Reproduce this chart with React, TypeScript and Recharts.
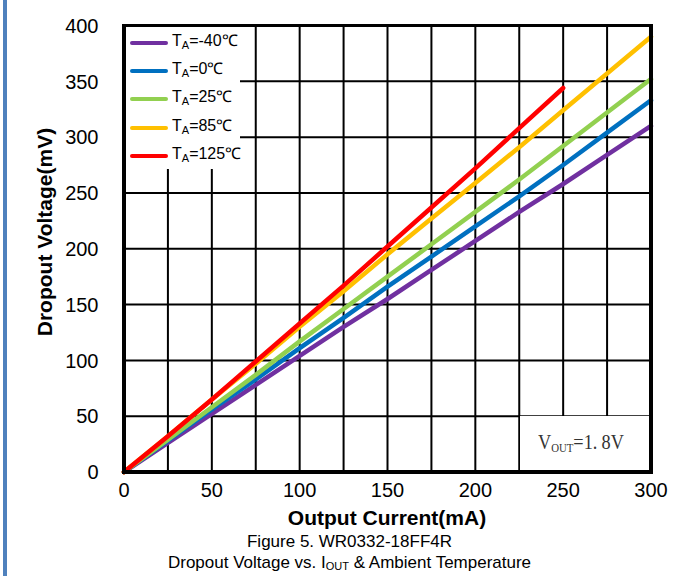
import { LineChart, Line, XAxis, YAxis, CartesianGrid } from 'recharts'

// output current (mA) and dropout voltage (mV) for each ambient temperature
const current = [0, 25, 50, 75, 100, 125, 150, 175, 200, 225, 250, 275, 300]
const vdoMinus40 = [0, 26, 52, 78, 104, 130, 155, 181, 207, 233, 258, 284, 310]
const vdo0 = [0, 28, 56, 83, 111, 138, 166, 193, 220, 247, 275, 304, 333]
const vdo25 = [0, 29, 58, 87, 117, 146, 175, 204, 233, 262, 292, 322, 352]
const vdo85 = [0, 32, 65, 97, 130, 162, 195, 227, 259, 291, 324, 357, 390]
const vdo125 = [0, 32, 65, 99, 133, 167, 202, 237, 272, 308, 344]

const xTicks = [0, 25, 50, 75, 100, 125, 150, 175, 200, 225, 250, 275, 300]
const yTicks = [0, 50, 100, 150, 200, 250, 300, 350, 400]

const series = [
  { key: 'm40', temp: '-40℃', color: '#7030A0', values: vdoMinus40 },
  { key: 't0', temp: '0℃', color: '#0070C0', values: vdo0 },
  { key: 't25', temp: '25℃', color: '#92D050', values: vdo25 },
  { key: 't85', temp: '85℃', color: '#FFC000', values: vdo85 },
  { key: 't125', temp: '125℃', color: '#FF0000', values: vdo125 },
]

const data = current.map((x, i) => {
  const row: Record<string, number | undefined> = { current: x }
  series.forEach(s => { row[s.key] = s.values[i] })
  return row
})

const sans = '"Liberation Sans", Arial, sans-serif'

function XTick({ x, y, payload }: any) {
  if (payload.value % 50 !== 0) return <g />
  return (
    <text x={x} y={497} textAnchor="middle" fontSize={20} fontFamily={sans} fill="#000">
      {payload.value}
    </text>
  )
}

function YTick({ y, payload }: any) {
  return (
    <text x={98.5} y={y + 7.2} textAnchor="end" fontSize={20} fontFamily={sans} fill="#000">
      {payload.value}
    </text>
  )
}

export default function App() {
  return (
    <div style={{ position: 'absolute', left: 0, top: 0, width: 687, height: 576, background: '#fff', fontFamily: sans, color: '#000' }}>
      <div style={{ position: 'absolute', left: 3, top: 0, width: 4, height: 576, background: '#4F81BD' }} />

      <LineChart width={687} height={576} data={data} margin={{ top: 25.5, right: 36, bottom: 74, left: 0 }}>
        <CartesianGrid stroke="#000" strokeWidth={2} />
        <XAxis
          type="number"
          dataKey="current"
          domain={[0, 300]}
          ticks={xTicks}
          interval={0}
          height={30}
          axisLine={false}
          tickLine={false}
          tick={XTick}
        />
        <YAxis
          type="number"
          domain={[0, 400]}
          ticks={yTicks}
          interval={0}
          width={124}
          axisLine={false}
          tickLine={false}
          tick={YTick}
        />
        {series.map(s => (
          <Line
            key={s.key}
            dataKey={s.key}
            stroke={s.color}
            strokeWidth={4.5}
            strokeLinecap="round"
            dot={false}
            activeDot={false}
            isAnimationActive={false}
          />
        ))}
      </LineChart>

      {/* plot frame */}
      <div style={{ position: 'absolute', left: 122, top: 24, width: 531, height: 450, boxSizing: 'border-box', borderStyle: 'solid', borderColor: '#000', borderWidth: '3px 4px 4px 4px', pointerEvents: 'none' }} />

      {/* legend */}
      <div style={{ position: 'absolute', left: 126, top: 27, width: 114, height: 142, background: '#fff' }}>
        {series.map((s, i) => (
          <div key={s.key} style={{ position: 'absolute', left: 0, top: 16 + i * 28.2 - 10, height: 20, display: 'flex', alignItems: 'center' }}>
            <div style={{ width: 38, height: 4, marginLeft: 4, background: s.color, borderRadius: 2 }} />
            <span style={{ marginLeft: 4, fontSize: 16, lineHeight: '20px', whiteSpace: 'nowrap' }}>
              T<sub style={{ fontSize: 11, verticalAlign: -3 }}>A</sub>={s.temp}
            </span>
          </div>
        ))}
      </div>

      {/* output voltage note */}
      <div style={{ position: 'absolute', left: 520, top: 416, width: 129, height: 54, background: '#fff' }}>
        <div style={{ position: 'absolute', left: 18, top: 13, fontFamily: '"Liberation Serif", "DejaVu Serif", serif', fontSize: 22, lineHeight: '26px', color: '#333', whiteSpace: 'nowrap', transform: 'scaleX(0.83)', transformOrigin: 'left center' }}>
          V<sub style={{ fontSize: 13, verticalAlign: -3 }}>OUT</sub>=1.<span style={{ marginLeft: 5 }}>8V</span>
        </div>
      </div>

      {/* axis titles */}
      <div style={{ position: 'absolute', left: 187, top: 506, width: 400, textAlign: 'center', fontSize: 21, fontWeight: 'bold', lineHeight: '24px' }}>
        Output Current(mA)
      </div>
      <div style={{ position: 'absolute', left: 45, top: 232, transform: 'translate(-50%, -50%) rotate(-90deg)', fontSize: 21, fontWeight: 'bold', lineHeight: '24px', whiteSpace: 'nowrap' }}>
        Dropout Voltage(mV)
      </div>

      {/* figure caption */}
      <div style={{ position: 'absolute', left: 100, top: 532, width: 499, textAlign: 'center', fontSize: 17, lineHeight: '20px' }}>
        Figure 5. WR0332-18FF4R
      </div>
      <div style={{ position: 'absolute', left: 100, top: 553, width: 499, textAlign: 'center', fontSize: 17, lineHeight: '20px', whiteSpace: 'nowrap' }}>
        Dropout Voltage vs. I<sub style={{ fontSize: 11, verticalAlign: -2 }}>OUT</sub> &amp; Ambient Temperature
      </div>
    </div>
  )
}
